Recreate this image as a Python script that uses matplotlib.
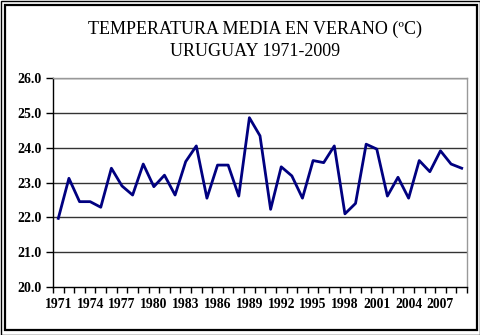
import matplotlib
matplotlib.use("Agg")
import matplotlib.pyplot as plt
from matplotlib.patches import Rectangle
import numpy as np

years = list(range(1971, 2010))
temps = [21.97, 23.12, 22.45, 22.45, 22.29, 23.41, 22.90, 22.64, 23.53, 22.88,
         23.21, 22.64, 23.60, 24.05, 22.55, 23.50, 23.50, 22.61, 24.86, 24.34,
         22.23, 23.45, 23.19, 22.55, 23.63, 23.57, 24.05, 22.10, 22.40, 24.10,
         23.96, 22.61, 23.15, 22.55, 23.63, 23.31, 23.91, 23.53, 23.41]
yticks = [20.0, 21.0, 22.0, 23.0, 24.0, 25.0, 26.0]
title = "TEMPERATURA MEDIA EN VERANO (ºC)\nURUGUAY 1971-2009"

plt.rcParams['font.family'] = ['Liberation Serif', 'DejaVu Serif']

fig = plt.figure(figsize=(4.81, 3.35), dpi=100)
W, H = 481, 335
ax = fig.add_axes([53 / W, 1 - 287 / H, (467 - 53) / W, (287 - 78) / H])

x = np.arange(len(years))
ax.plot(x, temps, color='#000080', lw=2.0, zorder=3)

ax.set_xlim(-0.5, len(years) - 0.5)
ax.set_ylim(20, 26)
ax.set_yticks(yticks)
ax.set_yticklabels([f"{v:.1f}" for v in yticks], fontweight='bold', fontsize=10)
for v in yticks[1:]:
    ax.axhline(v, color='#333333', lw=1.0, zorder=1)

major = x[::3]
ax.set_xticks(major)
ax.set_xticklabels([str(years[i]) for i in major], fontweight='bold', fontsize=9.8)
ax.set_xticks(np.arange(-0.5, len(years), 1.0), minor=True)
ax.tick_params(axis='x', which='major', length=0, pad=8)
ax.tick_params(axis='x', which='minor', length=4, direction='out', color='black', width=1)
ax.tick_params(axis='y', length=5, direction='out', color='black', width=1, pad=3)

for s in ['top', 'right']:
    ax.spines[s].set_color('#999999')
    ax.spines[s].set_linewidth(1.0)
for s in ['left', 'bottom']:
    ax.spines[s].set_color('black')
    ax.spines[s].set_linewidth(1.0)

fig.text(255 / W, 1 - 40 / H, title, ha='center', va='center', fontsize=13,
         linespacing=1.4)

fig.patches.append(Rectangle((0.5 / W, 0.5 / H), (W - 1) / W, (H - 1) / H,
                             transform=fig.transFigure, fill=False,
                             ec='black', lw=1.0))
fig.patches.append(Rectangle((4.5 / W, 1 - 330 / H), (477 - 4.5) / W, (330 - 4.5) / H,
                             transform=fig.transFigure, fill=False,
                             ec='black', lw=1.6))

fig.savefig("out.png", dpi=100)
